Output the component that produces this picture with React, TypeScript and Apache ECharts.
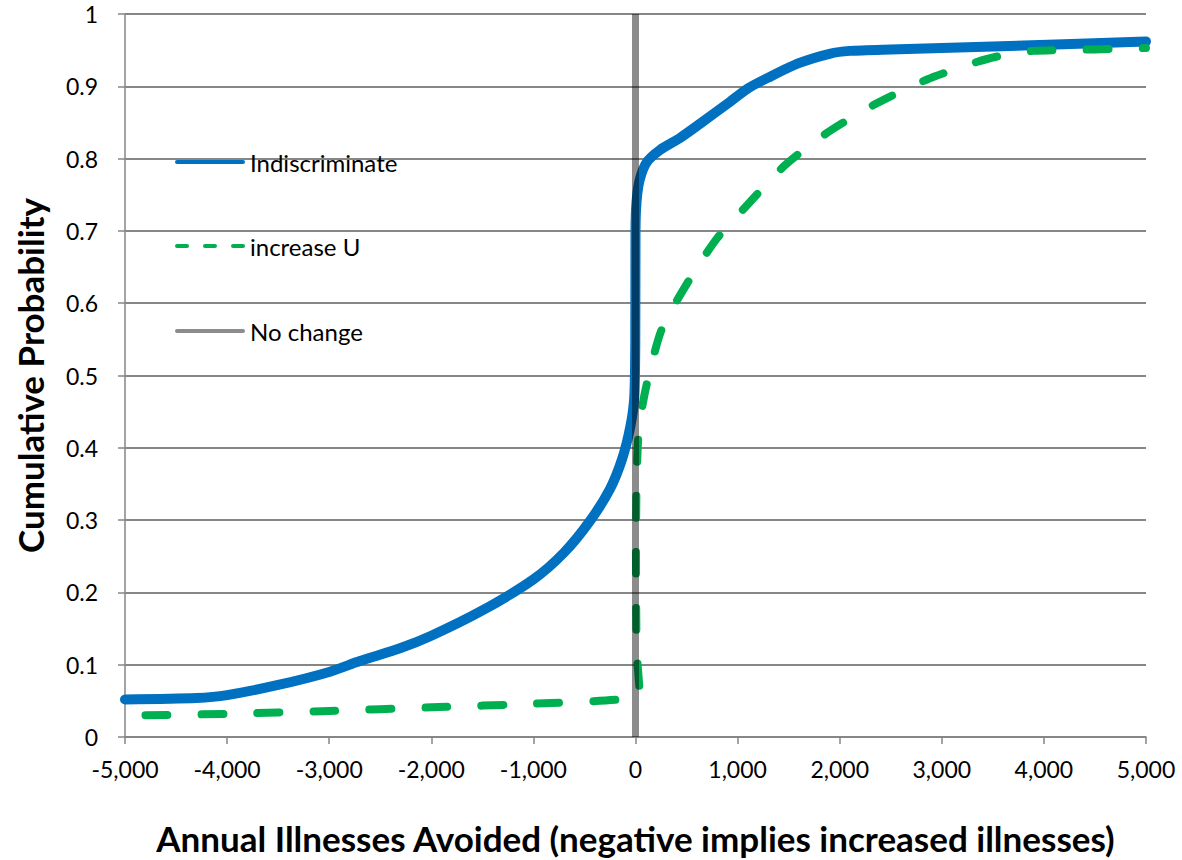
import React, { useEffect, useRef } from "react";
import * as echarts from "echarts";

const xTicks = { min: -5000, max: 5000, interval: 1000 };
const yTicks = { min: 0, max: 1, interval: 0.1 };

const indiscriminateX = [-5000, -4300, -4000, -3500, -3000, -2700, -2300, -2000, -1500, -1000, -700, -450, -250, -130, -50, -12, -2, 0, 10, 40, 110, 240, 430, 630, 920, 1100, 1300, 1600, 1900, 2100, 2500, 3500, 5000];
const indiscriminateY = [0.052, 0.054, 0.058, 0.072, 0.09, 0.105, 0.123, 0.14, 0.175, 0.218, 0.255, 0.298, 0.343, 0.385, 0.43, 0.47, 0.55, 0.7, 0.74, 0.77, 0.795, 0.812, 0.828, 0.848, 0.878, 0.897, 0.912, 0.932, 0.945, 0.949, 0.951, 0.955, 0.962];

const increaseUX = [-4800, -4000, -3000, -2000, -1000, -150, 40, 12, 5, 10, 30, 70, 130, 260, 530, 800, 1070, 1450, 1880, 2330, 2850, 3350, 3600, 3900, 4500, 5000];
const increaseUY = [0.03, 0.032, 0.036, 0.041, 0.046, 0.052, 0.06, 0.12, 0.25, 0.35, 0.42, 0.46, 0.5, 0.565, 0.633, 0.69, 0.732, 0.789, 0.836, 0.874, 0.909, 0.934, 0.943, 0.949, 0.951, 0.953];

const noChangeX = [0, 0];
const noChangeY = [0, 1];

const seriesNames = ["Indiscriminate", "increase U", "No change"];
const seriesColors = ["#0070C0", "#00B050", "#8C8C8C"];

const zip = (xs: number[], ys: number[]) => xs.map((x, i) => [x, ys[i]]);

export default function App() {
  const ref = useRef<HTMLDivElement>(null);
  useEffect(() => {
    if (!ref.current) return;
    const chart = echarts.init(ref.current, null, { renderer: "svg" });
    const font = "Lato, 'Open Sans', sans-serif";
    const legendRows = [162, 246, 331];
    const legendGraphics: any[] = [];
    seriesNames.forEach((name, i) => {
      const y = legendRows[i];
      legendGraphics.push({
        type: "line",
        shape: { x1: 177, y1: y, x2: 243, y2: y },
        style: {
          stroke: seriesColors[i],
          lineWidth: 4,
          lineCap: "round",
          lineDash: i === 1 ? [10, 18] : null,
        },
        z: 10,
      });
      legendGraphics.push({
        type: "text",
        x: 250,
        y,
        style: {
          text: name,
          fontSize: 24,
          fontFamily: font,
          fill: "#000",
          verticalAlign: "middle",
          align: "left",
        },
        z: 10,
      });
    });
    chart.setOption({
      animation: false,
      textStyle: { fontFamily: font },
      grid: { left: 125, right: 36, top: 14, bottom: 118, containLabel: false },
      graphic: legendGraphics,
      xAxis: {
        type: "value",
        min: xTicks.min,
        max: xTicks.max,
        interval: xTicks.interval,
        axisLine: { show: true, onZero: false, lineStyle: { color: "#868686", width: 1.5 } },
        axisTick: { show: true, inside: false, length: 7, lineStyle: { color: "#868686", width: 1.5 } },
        splitLine: { show: false },
        axisLabel: {
          margin: 20,
          fontSize: 23,
          color: "#000",
          formatter: (v: number) => v.toLocaleString("en-US"),
        },
        name: "Annual Illnesses Avoided (negative implies increased illnesses)",
        nameLocation: "middle",
        nameGap: 83,
        nameTextStyle: { fontSize: 35, fontWeight: "bold", color: "#000", fontFamily: font },
      },
      yAxis: {
        type: "value",
        min: yTicks.min,
        max: yTicks.max,
        interval: yTicks.interval,
        axisLine: { show: true, onZero: false, lineStyle: { color: "#868686", width: 1.5 } },
        axisTick: { show: true, inside: false, length: 7, lineStyle: { color: "#868686", width: 1.5 } },
        splitLine: { show: true, lineStyle: { color: "#868686", width: 2 } },
        axisLabel: { margin: 27, fontSize: 23, color: "#000" },
        name: "Cumulative Probability",
        nameLocation: "middle",
        nameGap: 78,
        nameTextStyle: { fontSize: 35, fontWeight: "bold", color: "#000", fontFamily: font },
      },
      series: [
        {
          name: seriesNames[0],
          type: "line",
          data: zip(indiscriminateX, indiscriminateY),
          showSymbol: false,
          symbol: "none",
          smooth: 0.25,
          lineStyle: { color: seriesColors[0], width: 10, cap: "round", join: "round" },
          itemStyle: { color: seriesColors[0] },
          z: 2,
        },
        {
          name: seriesNames[1],
          type: "line",
          data: zip(increaseUX, increaseUY),
          showSymbol: false,
          symbol: "none",
          smooth: 0.25,
          lineStyle: { color: seriesColors[1], width: 8, type: [22, 34], cap: "round", join: "round" },
          itemStyle: { color: seriesColors[1] },
          z: 3,
        },
        {
          name: seriesNames[2],
          type: "line",
          data: zip(noChangeX, noChangeY),
          showSymbol: false,
          symbol: "none",
          lineStyle: { color: "rgba(0,0,0,0.45)", width: 7, cap: "butt" },
          itemStyle: { color: seriesColors[2] },
          z: 4,
        },
      ],
    });
    return () => chart.dispose();
  }, []);
  return <div ref={ref} style={{ position: "fixed", left: 0, top: 0, width: 1182, height: 860, background: "#fff" }} />;
}
